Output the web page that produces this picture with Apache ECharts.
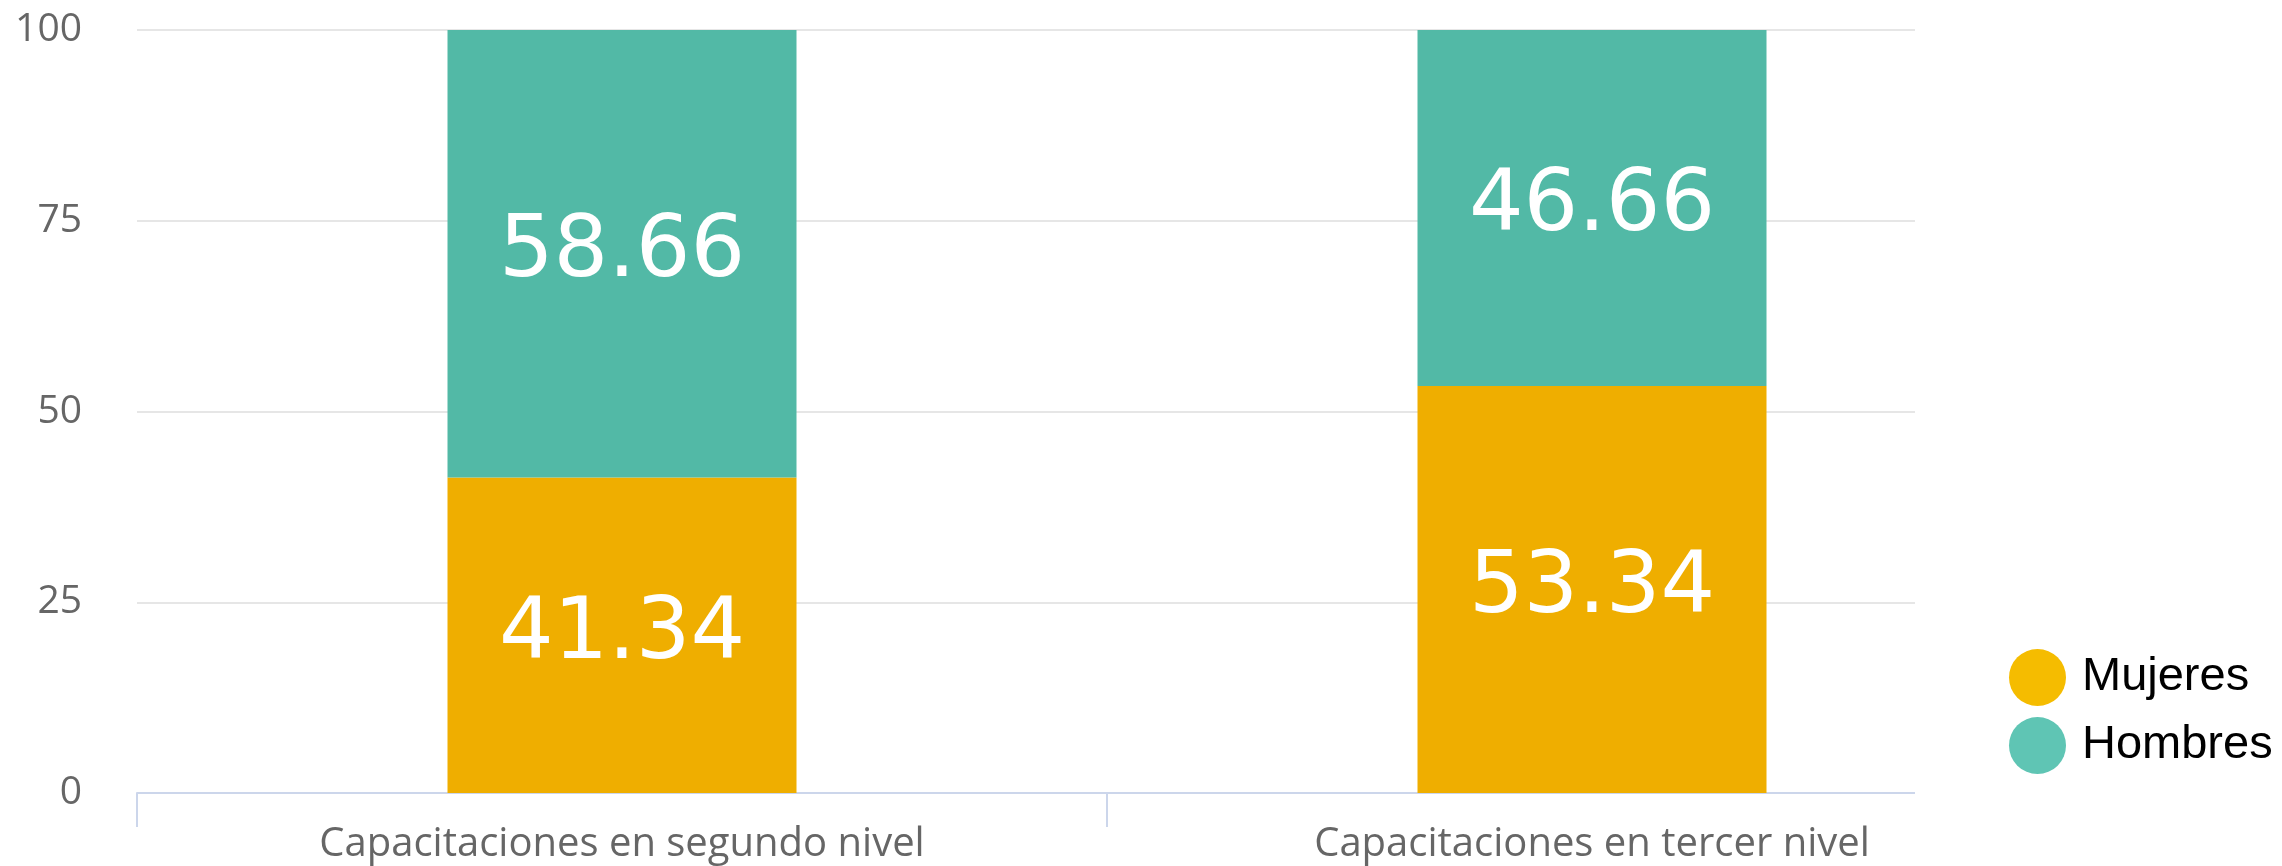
<!DOCTYPE html>
<html>
<head>
<meta charset="utf-8">
<script src="https://cdn.jsdelivr.net/npm/echarts@6/dist/echarts.min.js"></script>
<style>
  html, body { margin: 0; padding: 0; background: #ffffff; }
  #chart { width: 2282px; height: 866px; }
</style>
</head>
<body>
<div id="chart"></div>
<script>
// Categories and stacked shares (percent)
const categories = ['Capacitaciones en segundo nivel', 'Capacitaciones en tercer nivel'];
const mujeres = [41.34, 53.34];
const hombres = [58.66, 46.66];
const seriesNames = ['Mujeres', 'Hombres'];
const yTicks = [0, 25, 50, 75, 100];

const barColors = { Mujeres: '#EFAE00', Hombres: '#52B9A6' };
const legendColors = { Mujeres: '#F5BC00', Hombres: '#5FC5B4' };

const chart = echarts.init(document.getElementById('chart'), null, { renderer: 'canvas' });

const valueLabel = {
  show: true,
  position: 'inside',
  color: '#ffffff',
  fontFamily: 'DejaVu Sans',
  fontSize: 86,
  fontWeight: 'normal',
  formatter: p => p.value.toFixed(2)
};

chart.setOption({
  animation: false,
  backgroundColor: '#ffffff',
  grid: { left: 137, right: 205, top: 30, bottom: 73, containLabel: false },
  xAxis: {
    type: 'category',
    data: categories,
    axisLine: { lineStyle: { color: '#ccd6eb', width: 2 } },
    axisTick: { show: true, length: 34, lineStyle: { color: '#ccd6eb', width: 2 } },
    axisLabel: { color: '#666666', fontFamily: 'Open Sans', fontSize: 40, margin: 32 },
    splitLine: { show: false }
  },
  yAxis: {
    type: 'value',
    min: yTicks[0],
    max: yTicks[yTicks.length - 1],
    interval: 25,
    axisLine: { show: false },
    axisTick: { show: false },
    axisLabel: { color: '#666666', fontFamily: 'Open Sans', fontSize: 39, margin: 55 },
    splitLine: { lineStyle: { color: '#e6e6e6', width: 2 } }
  },
  legend: {
    orient: 'vertical',
    left: 2004,
    top: 644,
    z: 60,
    icon: 'circle',
    itemWidth: 57,
    itemHeight: 57,
    itemGap: 11,
    textStyle: { color: '#000000', fontFamily: 'Liberation Sans', fontSize: 47, padding: [0, 0, 0, 11] },
    data: seriesNames.map(n => ({ name: n, itemStyle: { color: legendColors[n] } }))
  },
  graphic: [{
    type: 'rect',
    z: 50,
    silent: true,
    shape: { x: 1915, y: 0, width: 367, height: 866 },
    style: { fill: '#ffffff' }
  }],
  series: [
    {
      name: 'Mujeres',
      type: 'bar',
      stack: 'total',
      barWidth: 349,
      data: mujeres,
      itemStyle: { color: barColors.Mujeres },
      label: valueLabel
    },
    {
      name: 'Hombres',
      type: 'bar',
      stack: 'total',
      barWidth: 349,
      data: hombres,
      itemStyle: { color: barColors.Hombres },
      label: valueLabel
    }
  ]
});
</script>
</body>
</html>
